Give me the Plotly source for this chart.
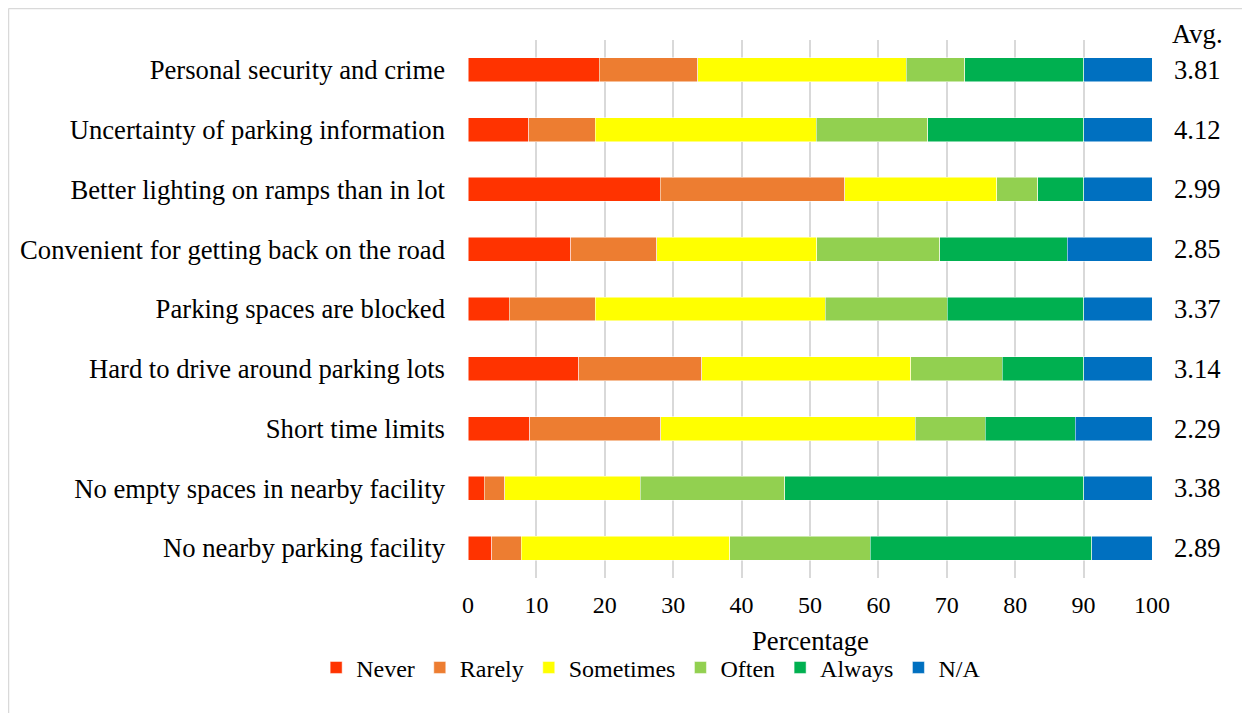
import plotly.graph_objects as go

categories = [
    "Personal security and crime",
    "Uncertainty of parking information",
    "Better lighting on ramps than in lot",
    "Convenient for getting back on the road",
    "Parking spaces are blocked",
    "Hard to drive around parking lots",
    "Short time limits",
    "No empty spaces in nearby facility",
    "No nearby parking facility",
]
never     = [19.2, 8.9, 28.1, 15.0, 6.0, 16.2, 9.0, 2.4, 3.5]
rarely    = [14.4, 9.7, 27.0, 12.6, 12.6, 18.0, 19.2, 3.0, 4.3]
sometimes = [30.5, 32.3, 22.2, 23.4, 33.6, 30.5, 37.2, 19.8, 30.5]
often     = [8.5, 16.3, 6.0, 18.0, 17.9, 13.4, 10.2, 21.1, 20.5]
always    = [17.4, 22.8, 6.7, 18.6, 19.9, 11.9, 13.2, 43.7, 32.4]
na        = [10.0, 10.0, 10.0, 12.4, 10.0, 10.0, 11.2, 10.0, 8.8]
averages  = ["3.81", "4.12", "2.99", "2.85", "3.37", "3.14", "2.29", "3.38", "2.89"]
x_ticks   = [0, 10, 20, 30, 40, 50, 60, 70, 80, 90, 100]

series = [
    ("Never", never, "#FF3300"),
    ("Rarely", rarely, "#ED7D31"),
    ("Sometimes", sometimes, "#FFFF00"),
    ("Often", often, "#92D050"),
    ("Always", always, "#00B050"),
    ("N/A", na, "#0070C0"),
]

FONT = "Liberation Serif, Times New Roman, serif"
BIG = 26.67

fig = go.Figure()
for name, vals, color in series:
    fig.add_trace(go.Bar(
        y=categories, x=vals, name=name, orientation="h",
        marker=dict(color=color, line=dict(color="white", width=0.5)),
    ))

for cat, avg in zip(categories, averages):
    fig.add_annotation(x=1.029, xref="paper", y=cat, yref="y", text=avg,
                       showarrow=False, xanchor="left", yanchor="middle",
                       font=dict(family=FONT, size=BIG, color="black"))
fig.add_annotation(x=1.026, xref="paper", y=1.011, yref="paper", text="Avg.",
                   showarrow=False, xanchor="left", yanchor="middle",
                   font=dict(family=FONT, size=BIG, color="black"))
fig.add_annotation(x=0.5, xref="paper", y=-0.117, yref="paper", text="Percentage",
                   showarrow=False, xanchor="center", yanchor="middle",
                   font=dict(family=FONT, size=BIG, color="black"))

# outer border (top & left visible)
fig.add_shape(type="line", xref="paper", yref="paper", x0=-0.6718, x1=1.2,
              y0=1.0586, y1=1.0586, line=dict(color="#D9D9D9", width=1.5))
fig.add_shape(type="line", xref="paper", yref="paper", x0=-0.6718, x1=-0.6718,
              y0=-0.3, y1=1.0586, line=dict(color="#D9D9D9", width=1.5))

fig.update_layout(
    barmode="stack",
    bargap=0.6,
    width=1242, height=705,
    margin=dict(l=460, r=98, t=32, b=135),
    paper_bgcolor="white", plot_bgcolor="white",
    font=dict(family=FONT, size=24, color="black"),
    showlegend=True,
    legend=dict(orientation="h", x=-0.222, xanchor="left", y=-0.167, yanchor="middle",
                font=dict(family=FONT, size=24), traceorder="normal",
                itemwidth=30, tracegroupgap=0),
    xaxis=dict(range=[0, 100], tickvals=x_ticks, showgrid=True, gridcolor="#D9D9D9",
               gridwidth=1.5, zeroline=False, showline=False, ticks="",
               ticklabelstandoff=10, tickfont=dict(family=FONT, size=24)),
    yaxis=dict(categoryorder="array", categoryarray=categories, autorange="reversed",
               showgrid=False, zeroline=False, showline=False, ticks="",
               ticklabelstandoff=22, tickfont=dict(family=FONT, size=BIG)),
)

fig.write_html("out.html")
